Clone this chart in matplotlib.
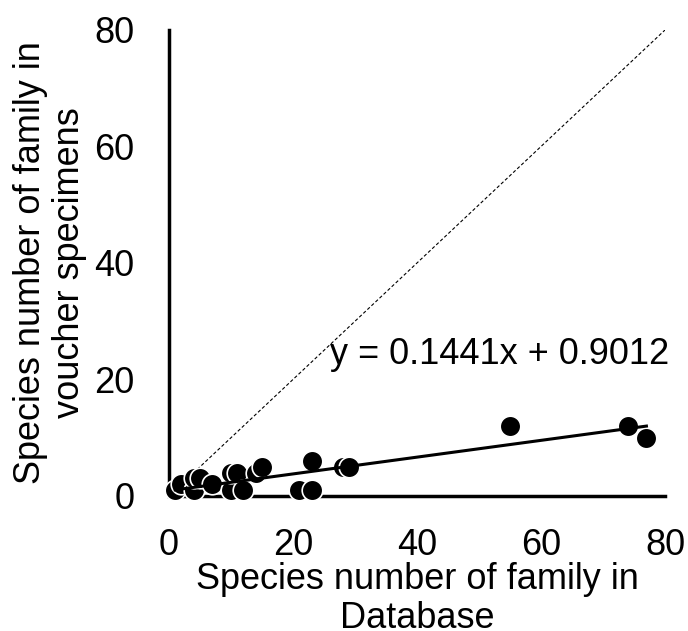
import numpy as np
import matplotlib.pyplot as plt

plt.rcParams['font.family'] = ['Liberation Sans', 'DejaVu Sans']

# species numbers per family: database (x) vs voucher specimens (y)
db_species = [1, 2, 4, 4, 5, 7, 10, 10, 11, 12, 14, 15, 21, 23, 23, 28, 29, 55, 74, 77]
voucher_species = [1, 2, 1, 3, 3, 2, 1, 4, 4, 1, 4, 5, 1, 1, 6, 5, 5, 12, 12, 10]

slope = 0.1441
intercept = 0.9012
fit_label = "y = 0.1441x + 0.9012"

fig = plt.figure(figsize=(6.88, 6.31), dpi=100)
ax = fig.add_axes([0.2456, 0.214, 0.721, 0.7385])

# linea 1:1 di riferimento
ax.plot([0, 80], [0, 80], color='black', linestyle=(0, (3, 2)), linewidth=0.8, zorder=1)

ax.scatter(db_species, voucher_species, s=220, color='black', edgecolors='white',
           linewidths=1.2, zorder=3, clip_on=False)

xs = np.array([min(db_species), max(db_species)])
ax.plot(xs, slope * xs + intercept, color='black', linewidth=2.2, zorder=4)

ax.text(26, 24.3, fit_label, fontsize=26, va='center', ha='left')

ax.set_xlim(0, 80)
ax.set_ylim(0, 80)
ax.set_xticks([0, 20, 40, 60, 80])
ax.set_yticks([0, 20, 40, 60, 80])
ax.tick_params(axis='both', length=0, labelsize=26)
ax.tick_params(axis='x', pad=23)
ax.tick_params(axis='y', pad=25)

for side in ['top', 'right']:
    ax.spines[side].set_visible(False)
for side in ['left', 'bottom']:
    ax.spines[side].set_linewidth(2.5)

ax.set_xlabel("Species number of family in\nDatabase", fontsize=26, labelpad=-0.5,
              linespacing=1.15)
ax.set_ylabel("Species number of family in\nvoucher specimens", fontsize=26, labelpad=5,
              linespacing=1.15)

fig.savefig('out.png', dpi=100)
